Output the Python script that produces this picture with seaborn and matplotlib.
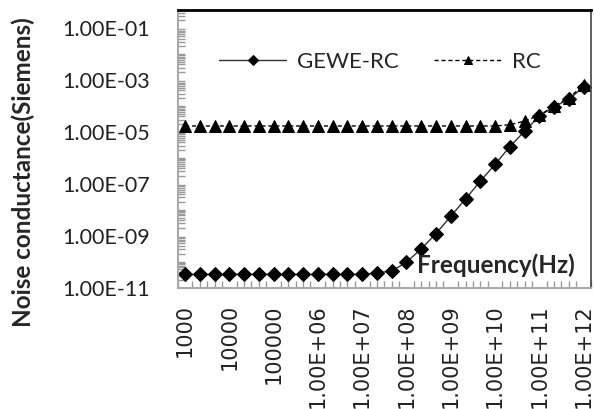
import seaborn as sns
import matplotlib.pyplot as plt
import matplotlib.ticker as mticker
import numpy as np
import pandas as pd

# frequency points: 3 per decade, 1e3 .. 1e12 (28 categories)
freq_tick_labels = ["1000", "10000", "100000", "1.00E+06", "1.00E+07",
                    "1.00E+08", "1.00E+09", "1.00E+10", "1.00E+11", "1.00E+12"]

gewe_rc = [3.2e-11, 3.2e-11, 3.2e-11, 3.2e-11, 3.2e-11, 3.2e-11, 3.2e-11,
           3.2e-11, 3.2e-11, 3.2e-11, 3.2e-11, 3.2e-11, 3.2e-11, 3.7e-11,
           4.3e-11, 9.5e-11, 3.1e-10, 1.2e-09, 5.6e-09, 2.6e-08, 1.26e-07,
           5.6e-07, 2.7e-06, 1.07e-05, 4.1e-05, 9.5e-05, 1.8e-04, 5.6e-04]
rc = [1.7e-05, 1.7e-05, 1.7e-05, 1.7e-05, 1.7e-05, 1.7e-05, 1.7e-05,
      1.7e-05, 1.7e-05, 1.7e-05, 1.7e-05, 1.7e-05, 1.7e-05, 1.7e-05,
      1.7e-05, 1.7e-05, 1.7e-05, 1.7e-05, 1.7e-05, 1.7e-05, 1.7e-05,
      1.7e-05, 1.9e-05, 2.6e-05, 4.4e-05, 1.0e-04, 2.1e-04, 6.3e-04]

idx = np.arange(len(gewe_rc))
df = pd.DataFrame({"i": np.concatenate([idx, idx]),
                   "G": gewe_rc + rc,
                   "serie": ["GEWE-RC"] * len(idx) + ["RC"] * len(idx)})

sns.set_style("white")
plt.rcParams["font.family"] = ["Lato", "DejaVu Sans"]

fig = plt.figure(figsize=(5.94, 4.09), dpi=100)
ax = fig.add_axes([0.299, 0.297, 0.696, 0.679])

sns.lineplot(data=df[df.serie == "GEWE-RC"], x="i", y="G", ax=ax,
             color="#333333", linewidth=1.0, marker="D", markersize=7,
             markerfacecolor="black", markeredgecolor="black", label="GEWE-RC")
sns.lineplot(data=df[df.serie == "RC"], x="i", y="G", ax=ax,
             color="black", linewidth=1.0, linestyle=(0, (3, 2)), marker="^",
             markersize=8, markerfacecolor="black", markeredgecolor="black",
             label="RC")

ax.set_yscale("log")
ax.set_ylim(1e-11, 10 ** -0.29)
ax.set_xlim(-0.5, len(idx) - 0.5)

ax.yaxis.set_major_locator(mticker.FixedLocator([1e-11, 1e-9, 1e-7, 1e-5, 1e-3, 1e-1]))
ax.yaxis.set_major_formatter(mticker.FuncFormatter(
    lambda v, p: "1.00E-%02d" % round(-np.log10(v))))
ax.yaxis.set_minor_locator(mticker.LogLocator(base=10, subs=np.arange(1, 10), numticks=30))
ax.yaxis.set_minor_formatter(mticker.NullFormatter())
ax.tick_params(axis="y", which="major", direction="in", length=0, pad=20,
               labelsize=15.5, labelcolor="#222222")
ax.tick_params(axis="y", which="minor", direction="in", length=5, width=1,
               color="#999999", left=True)

ax.set_xticks(idx[::3])
ax.set_xticklabels(freq_tick_labels, rotation=90, fontsize=15,
                   family="DejaVu Sans", color="#222222")
ax.set_xticks(np.arange(-0.5, len(idx), 0.5), minor=True)
ax.tick_params(axis="x", which="major", length=0, pad=12)
ax.tick_params(axis="x", which="minor", direction="in", length=5, width=1,
               color="#999999", bottom=True)

for s in ["left", "bottom"]:
    ax.spines[s].set_color("#aaaaaa")
    ax.spines[s].set_linewidth(1.5)
ax.spines["top"].set_color("black")
ax.spines["top"].set_linewidth(2)
ax.spines["right"].set_color("#444444")
ax.spines["right"].set_linewidth(1.2)

ax.set_xlabel("")
ax.set_ylabel("")
fig.text(23 / 594, 1 - 172 / 409, "Noise conductance(Siemens)", rotation=90,
         ha="center", va="center", fontsize=17.5, fontweight="bold")
ax.text(0.77, 0.081, "Frequency(Hz)", transform=ax.transAxes, ha="center",
        va="center", fontsize=17.5, fontweight="bold")

ax.legend(loc="center", bbox_to_anchor=(0.49, 0.813), ncol=2, frameon=False,
          fontsize=16, handlelength=3.0, handletextpad=0.5, columnspacing=1.6,
          markerscale=0.75)

plt.savefig("out.png", dpi=100)
